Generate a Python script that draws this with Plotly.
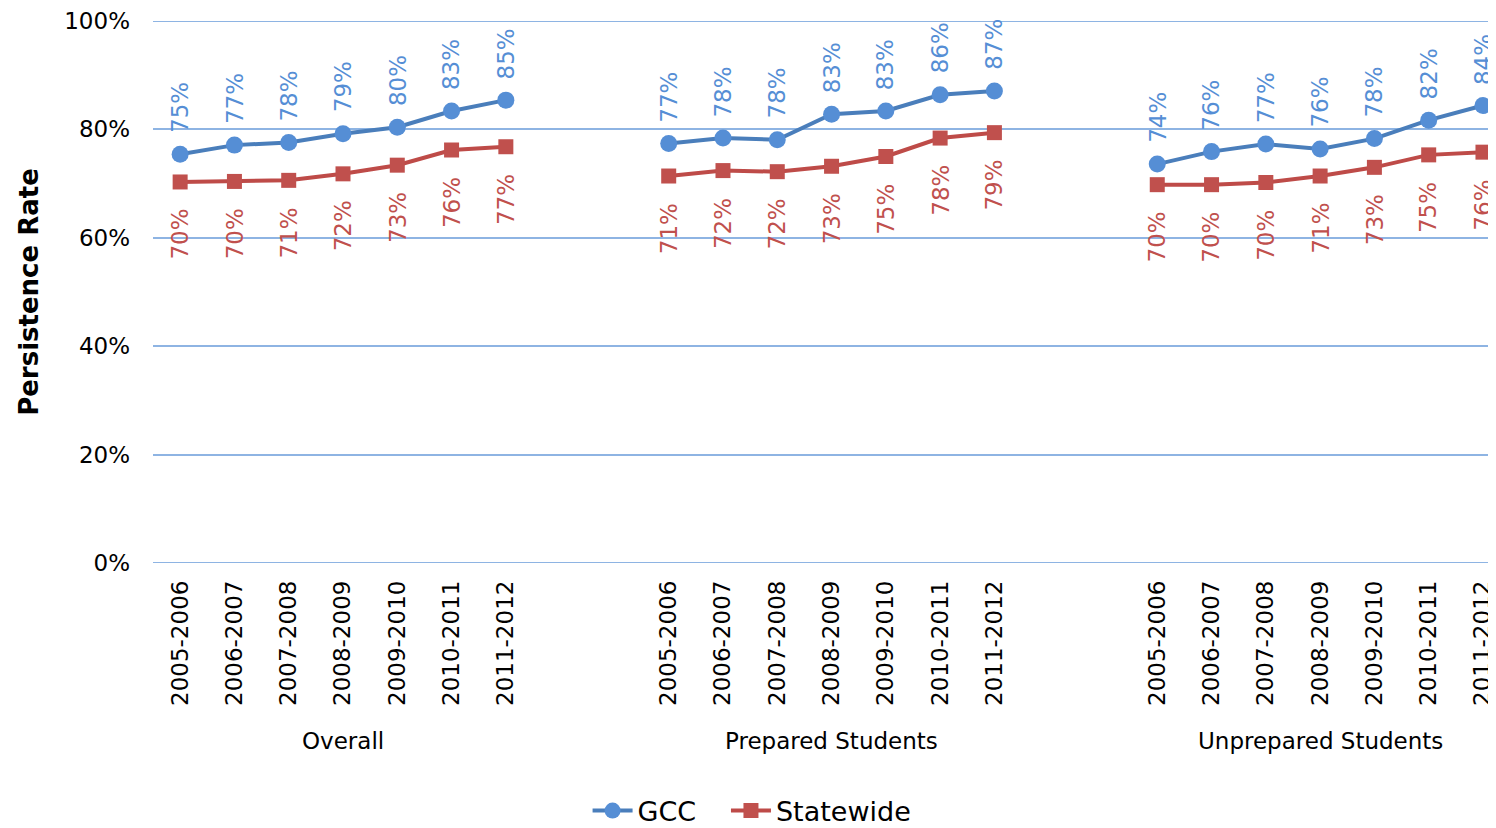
import plotly.graph_objects as go

years = ["2005-2006", "2006-2007", "2007-2008", "2008-2009", "2009-2010", "2010-2011", "2011-2012"]
groups = ["Overall", "Prepared Students", "Unprepared Students"]

gcc_overall = [75.4, 77.1, 77.6, 79.2, 80.4, 83.4, 85.4]
gcc_prepared = [77.4, 78.4, 78.1, 82.8, 83.4, 86.4, 87.1]
gcc_unprepared = [73.6, 75.9, 77.3, 76.4, 78.3, 81.7, 84.4]

state_overall = [70.3, 70.4, 70.6, 71.8, 73.4, 76.2, 76.8]
state_prepared = [71.4, 72.4, 72.2, 73.2, 75.0, 78.4, 79.4]
state_unprepared = [69.8, 69.8, 70.2, 71.4, 73.0, 75.3, 75.8]

y_ticks = [0, 20, 40, 60, 80, 100]

gcc = [gcc_overall, gcc_prepared, gcc_unprepared]
state = [state_overall, state_prepared, state_unprepared]

FONT = "DejaVu Sans, Verdana, sans-serif"
BLUE_LINE, BLUE_MK = "#4A7EBB", "#558ED5"
RED_LINE, RED_MK = "#BE4B48", "#C0504D"
GRID = "#8EB4E3"

group_gap = 9  # 7 categories + 2 empty slots
xs, gy, sy, ticktext, tickvals = [], [], [], [], []
for g in range(len(groups)):
    for i, yr in enumerate(years):
        x = g * group_gap + i
        xs.append(x)
        gy.append(gcc[g][i])
        sy.append(state[g][i])
        tickvals.append(x)
        ticktext.append(yr)
    if g < len(groups) - 1:
        xs.append(None)
        gy.append(None)
        sy.append(None)

fig = go.Figure()
fig.add_trace(go.Scatter(x=xs, y=gy, mode="lines+markers", name="GCC", legend="legend",
                         line=dict(color=BLUE_LINE, width=4),
                         marker=dict(symbol="circle", size=17, color=BLUE_MK),
                         cliponaxis=False, connectgaps=False))
fig.add_trace(go.Scatter(x=xs, y=sy, mode="lines+markers", name="Statewide", legend="legend2",
                         line=dict(color=RED_LINE, width=4),
                         marker=dict(symbol="square", size=15, color=RED_MK),
                         cliponaxis=False, connectgaps=False))

annotations = []
for x, v in zip(xs, gy):
    if x is None:
        continue
    annotations.append(dict(x=x, y=v, xref="x", yref="y", text=f"{v:.0f}%", textangle=-90,
                            showarrow=False, yanchor="bottom", xanchor="center", yshift=19,
                            font=dict(family=FONT, size=23, color=BLUE_MK)))
for x, v in zip(xs, sy):
    if x is None:
        continue
    annotations.append(dict(x=x, y=v, xref="x", yref="y", text=f"{v:.0f}%", textangle=-90,
                            showarrow=False, yanchor="top", xanchor="center", yshift=-25,
                            font=dict(family=FONT, size=23, color=RED_MK)))
for g, name in enumerate(groups):
    annotations.append(dict(x=g * group_gap + 3, y=-0.3284, xref="x", yref="paper", text=name,
                            showarrow=False, xanchor="center", yanchor="middle",
                            font=dict(family=FONT, size=23, color="#000000")))

shapes = [dict(type="line", xref="paper", yref="y", x0=0, x1=1, y0=v, y1=v,
               line=dict(color=GRID, width=2), layer="below") for v in (y_ticks[0], y_ticks[-1])]

leg_common = dict(orientation="h", xref="container", yref="container", y=0.0207,
                  xanchor="left", yanchor="middle", font=dict(family=FONT, size=27),
                  itemwidth=40, bgcolor="rgba(0,0,0,0)")

fig.update_layout(
    width=1488, height=820,
    margin=dict(l=145, r=0, t=9, b=265),
    plot_bgcolor="white", paper_bgcolor="white",
    font=dict(family=FONT, size=23, color="#000000"),
    showlegend=True,
    legend=dict(x=0.3895, **leg_common),
    legend2=dict(x=0.4825, **leg_common),
    annotations=annotations,
    shapes=shapes,
    xaxis=dict(range=[-0.5, 24.24], tickmode="array", tickvals=tickvals, ticktext=ticktext,
               tickangle=-90, showgrid=False, zeroline=False, showline=False, ticks="",
               ticklabelstandoff=12, tickfont=dict(family=FONT, size=23)),
    yaxis=dict(range=[0, 100], tickmode="array", tickvals=y_ticks,
               ticktext=[f"{t}%" for t in y_ticks], ticklabeloverflow="allow",
               showgrid=True, gridcolor=GRID, gridwidth=2, zeroline=False, showline=False,
               ticks="", ticklabelstandoff=22, tickfont=dict(family=FONT, size=23),
               title=dict(text="<b>Persistence Rate</b>", font=dict(family=FONT, size=26), standoff=18)),
)
fig.write_html("out.html")
